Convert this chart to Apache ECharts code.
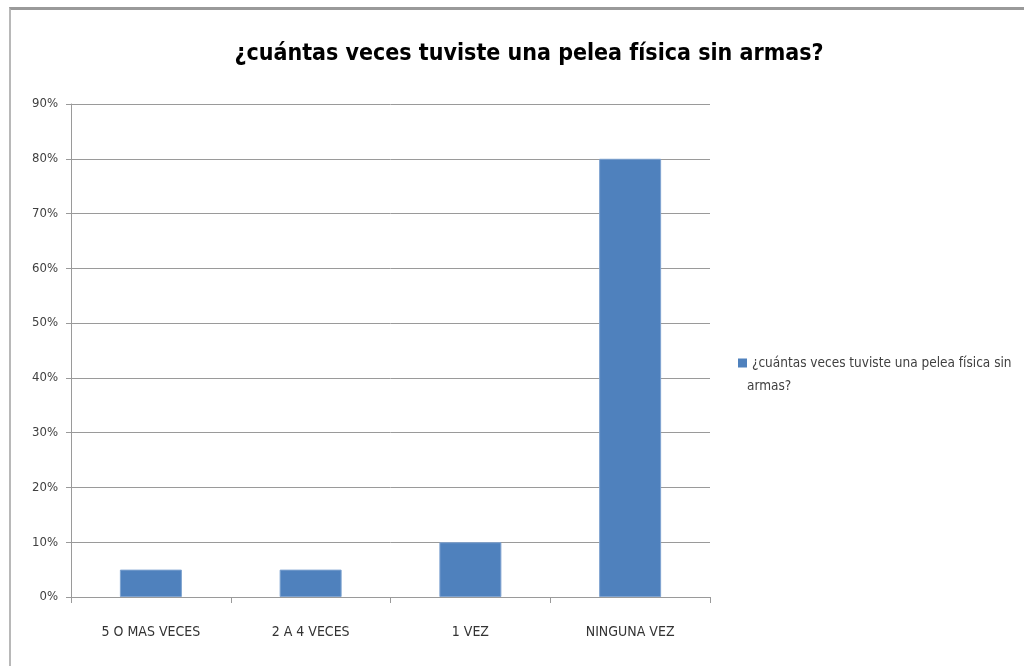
<!DOCTYPE html>
<html><head><meta charset="utf-8">
<script src="https://cdn.jsdelivr.net/npm/echarts@6/dist/echarts.min.js"></script>
<style>
html,body{margin:0;padding:0;background:#fff;width:1024px;height:666px;overflow:hidden}
#frame{position:absolute;left:9px;top:7px;width:1015px;height:659px;border-top:3px solid #9a9a9a;border-left:2px solid #b8b8b8;box-sizing:border-box}
#chart{position:absolute;left:0;top:0;width:1024px;height:666px}
</style></head>
<body>
<div id="frame"></div>
<div id="chart"></div>
<script>
const title = '¿cuántas veces tuviste una pelea física sin armas?';
const seriesName = '¿cuántas veces tuviste una pelea física sin armas?';
const legendLines = ['¿cuántas veces tuviste una pelea física sin', 'armas?'];
const categories = ['5 O MAS VECES', '2 A 4 VECES', '1 VEZ', 'NINGUNA VEZ'];
const values = [0.05, 0.05, 0.10, 0.80];
const yTicks = [0, 0.1, 0.2, 0.3, 0.4, 0.5, 0.6, 0.7, 0.8, 0.9];

const font = '"Liberation Sans Narrow", "DejaVu Sans Condensed", "Open Sans", sans-serif';
const chart = echarts.init(document.getElementById('chart'));
chart.setOption({
  animation: false,
  title: {
    text: title, left: 524, top: 38, textAlign: 'center',
    textStyle: {fontFamily: font, fontSize: 23, fontWeight: 'bold', color: '#000'}
  },
  legend: {
    left: 733, top: 351, orient: 'vertical',
    itemWidth: 9, itemHeight: 9, itemGap: 4,
    icon: 'rect',
    data: [seriesName],
    itemStyle: {borderWidth: 0},
    formatter: () => legendLines[0],
    textStyle: {fontFamily: font, fontSize: 13.5, color: '#404040'}
  },
  graphic: [{
    type: 'text', left: 747, top: 379,
    style: {text: legendLines[1], font: '13.5px ' + font, fill: '#404040'}
  }],
  grid: {left: 71, right: 314, top: 104, bottom: 69},
  xAxis: {
    type: 'category', data: categories,
    axisLine: {lineStyle: {color: '#9a9a9a', width: 1}},
    axisTick: {show: true, alignWithLabel: false, length: 6, lineStyle: {color: '#9a9a9a'}},
    axisLabel: {fontFamily: font, fontSize: 14, color: '#333', margin: 28}
  },
  yAxis: {
    type: 'value', min: 0, max: 0.9, interval: 0.1,
    axisLine: {show: true, lineStyle: {color: '#9a9a9a'}},
    axisTick: {show: true, length: 5, lineStyle: {color: '#9a9a9a'}},
    splitLine: {lineStyle: {color: '#9a9a9a', width: 1}},
    axisLabel: {fontFamily: font, fontSize: 13, color: '#404040', margin: 13,
      formatter: v => Math.round(v * 100) + '%'}
  },
  series: [{
    name: seriesName, type: 'bar', data: values, barWidth: 62,
    itemStyle: {color: '#4F81BD', borderColor: '#7FA3D0', borderWidth: 1}
  }]
});
</script>
</body></html>
